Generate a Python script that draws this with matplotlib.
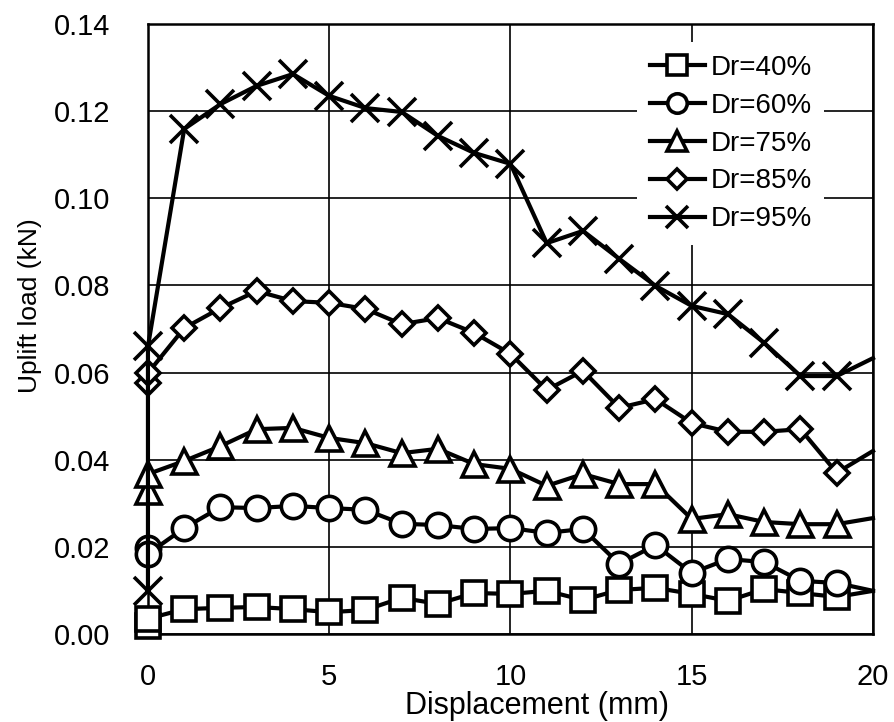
import numpy as np
import matplotlib
matplotlib.use('Agg')
import matplotlib.pyplot as plt

plt.rcParams['font.family'] = ['Liberation Sans', 'DejaVu Sans']

# displacement (mm); the first two readings share x = 0
disp = [0, 0, 1, 2, 3, 4, 5, 6, 7, 8, 9, 10, 11, 12, 13, 14, 15, 16, 17, 18, 19, 20]

load_40 = [0.0018, 0.0035, 0.0057, 0.0060, 0.0062, 0.0057, 0.0050, 0.0055, 0.0083, 0.0069, 0.0094,
           0.0092, 0.0099, 0.0078, 0.0101, 0.0106, 0.0092, 0.0076, 0.0103, 0.0094, 0.0085, 0.0099]
load_60 = [0.0197, 0.0184, 0.0243, 0.0291, 0.0289, 0.0294, 0.0289, 0.0285, 0.0253, 0.0250, 0.0241,
           0.0243, 0.0232, 0.0241, 0.0161, 0.0204, 0.0140, 0.0172, 0.0165, 0.0122, 0.0117, 0.0099]
load_75 = [0.0328, 0.0367, 0.0397, 0.0431, 0.0470, 0.0473, 0.0450, 0.0438, 0.0415, 0.0425, 0.0390,
           0.0379, 0.0340, 0.0367, 0.0344, 0.0344, 0.0264, 0.0275, 0.0257, 0.0252, 0.0252, 0.0266]
load_85 = [0.0576, 0.0599, 0.0702, 0.0748, 0.0787, 0.0764, 0.0760, 0.0746, 0.0711, 0.0725, 0.0691,
           0.0643, 0.0560, 0.0604, 0.0519, 0.0539, 0.0484, 0.0464, 0.0464, 0.0470, 0.0370, 0.0420]
load_95 = [0.0099, 0.0660, 0.1159, 0.1216, 0.1258, 0.1285, 0.1235, 0.1207, 0.1198, 0.1143, 0.1104,
           0.1079, 0.0897, 0.0925, 0.0861, 0.0799, 0.0753, 0.0734, 0.0668, 0.0592, 0.0592, 0.0633]

labels = ['Dr=40%', 'Dr=60%', 'Dr=75%', 'Dr=85%', 'Dr=95%']
markers = ['s', 'o', '^', 'D', 'x']
sizes = [17.5, 17.5, 18, 12.5, 20]
series = [load_40, load_60, load_75, load_85, load_95]

fig = plt.figure(figsize=(8.94, 7.22), dpi=100)
ax = fig.add_axes([0.1655, 0.1219, 0.8110, 0.8449])

# last point only carries the line to the edge, no marker there
mark_idx = list(range(len(disp) - 1))
for y, lab, m, ms in zip(series, labels, markers, sizes):
    ax.plot(disp, y, color='black', lw=3.0, marker=m, ms=ms, mfc='white',
            mec='black', mew=2.6, markevery=mark_idx, label=lab, clip_on=False, zorder=3)

ax.set_xlim(0, 20)
ax.set_ylim(0, 0.14)
ax.set_xticks([0, 5, 10, 15, 20])
ax.set_yticks(np.arange(0, 0.141, 0.02))
ax.set_yticklabels(['%.2f' % v for v in np.arange(0, 0.141, 0.02)])
ax.grid(True, color='black', lw=1.2)
ax.set_axisbelow(True)
for s in ax.spines.values():
    s.set_linewidth(1.8)
ax.tick_params(length=0, labelsize=21, pad=27)
ax.tick_params(axis='x', pad=21)

ax.set_xlabel('Displacement (mm)', fontsize=22)
ax.xaxis.set_label_coords(0.537, -0.094)
ax.set_ylabel('Uplift load (kN)', fontsize=19)
ax.yaxis.set_label_coords(-0.146, 0.538)

leg = ax.legend(loc='upper right', bbox_to_anchor=(0.952, 0.993), fontsize=20, frameon=True,
                fancybox=False, edgecolor='none', facecolor='white', framealpha=1,
                handlelength=1.98, handletextpad=0.2, labelspacing=0.43, borderpad=0.45,
                markerscale=0.8)
leg.set_zorder(5)

plt.savefig('out.png', dpi=100)
